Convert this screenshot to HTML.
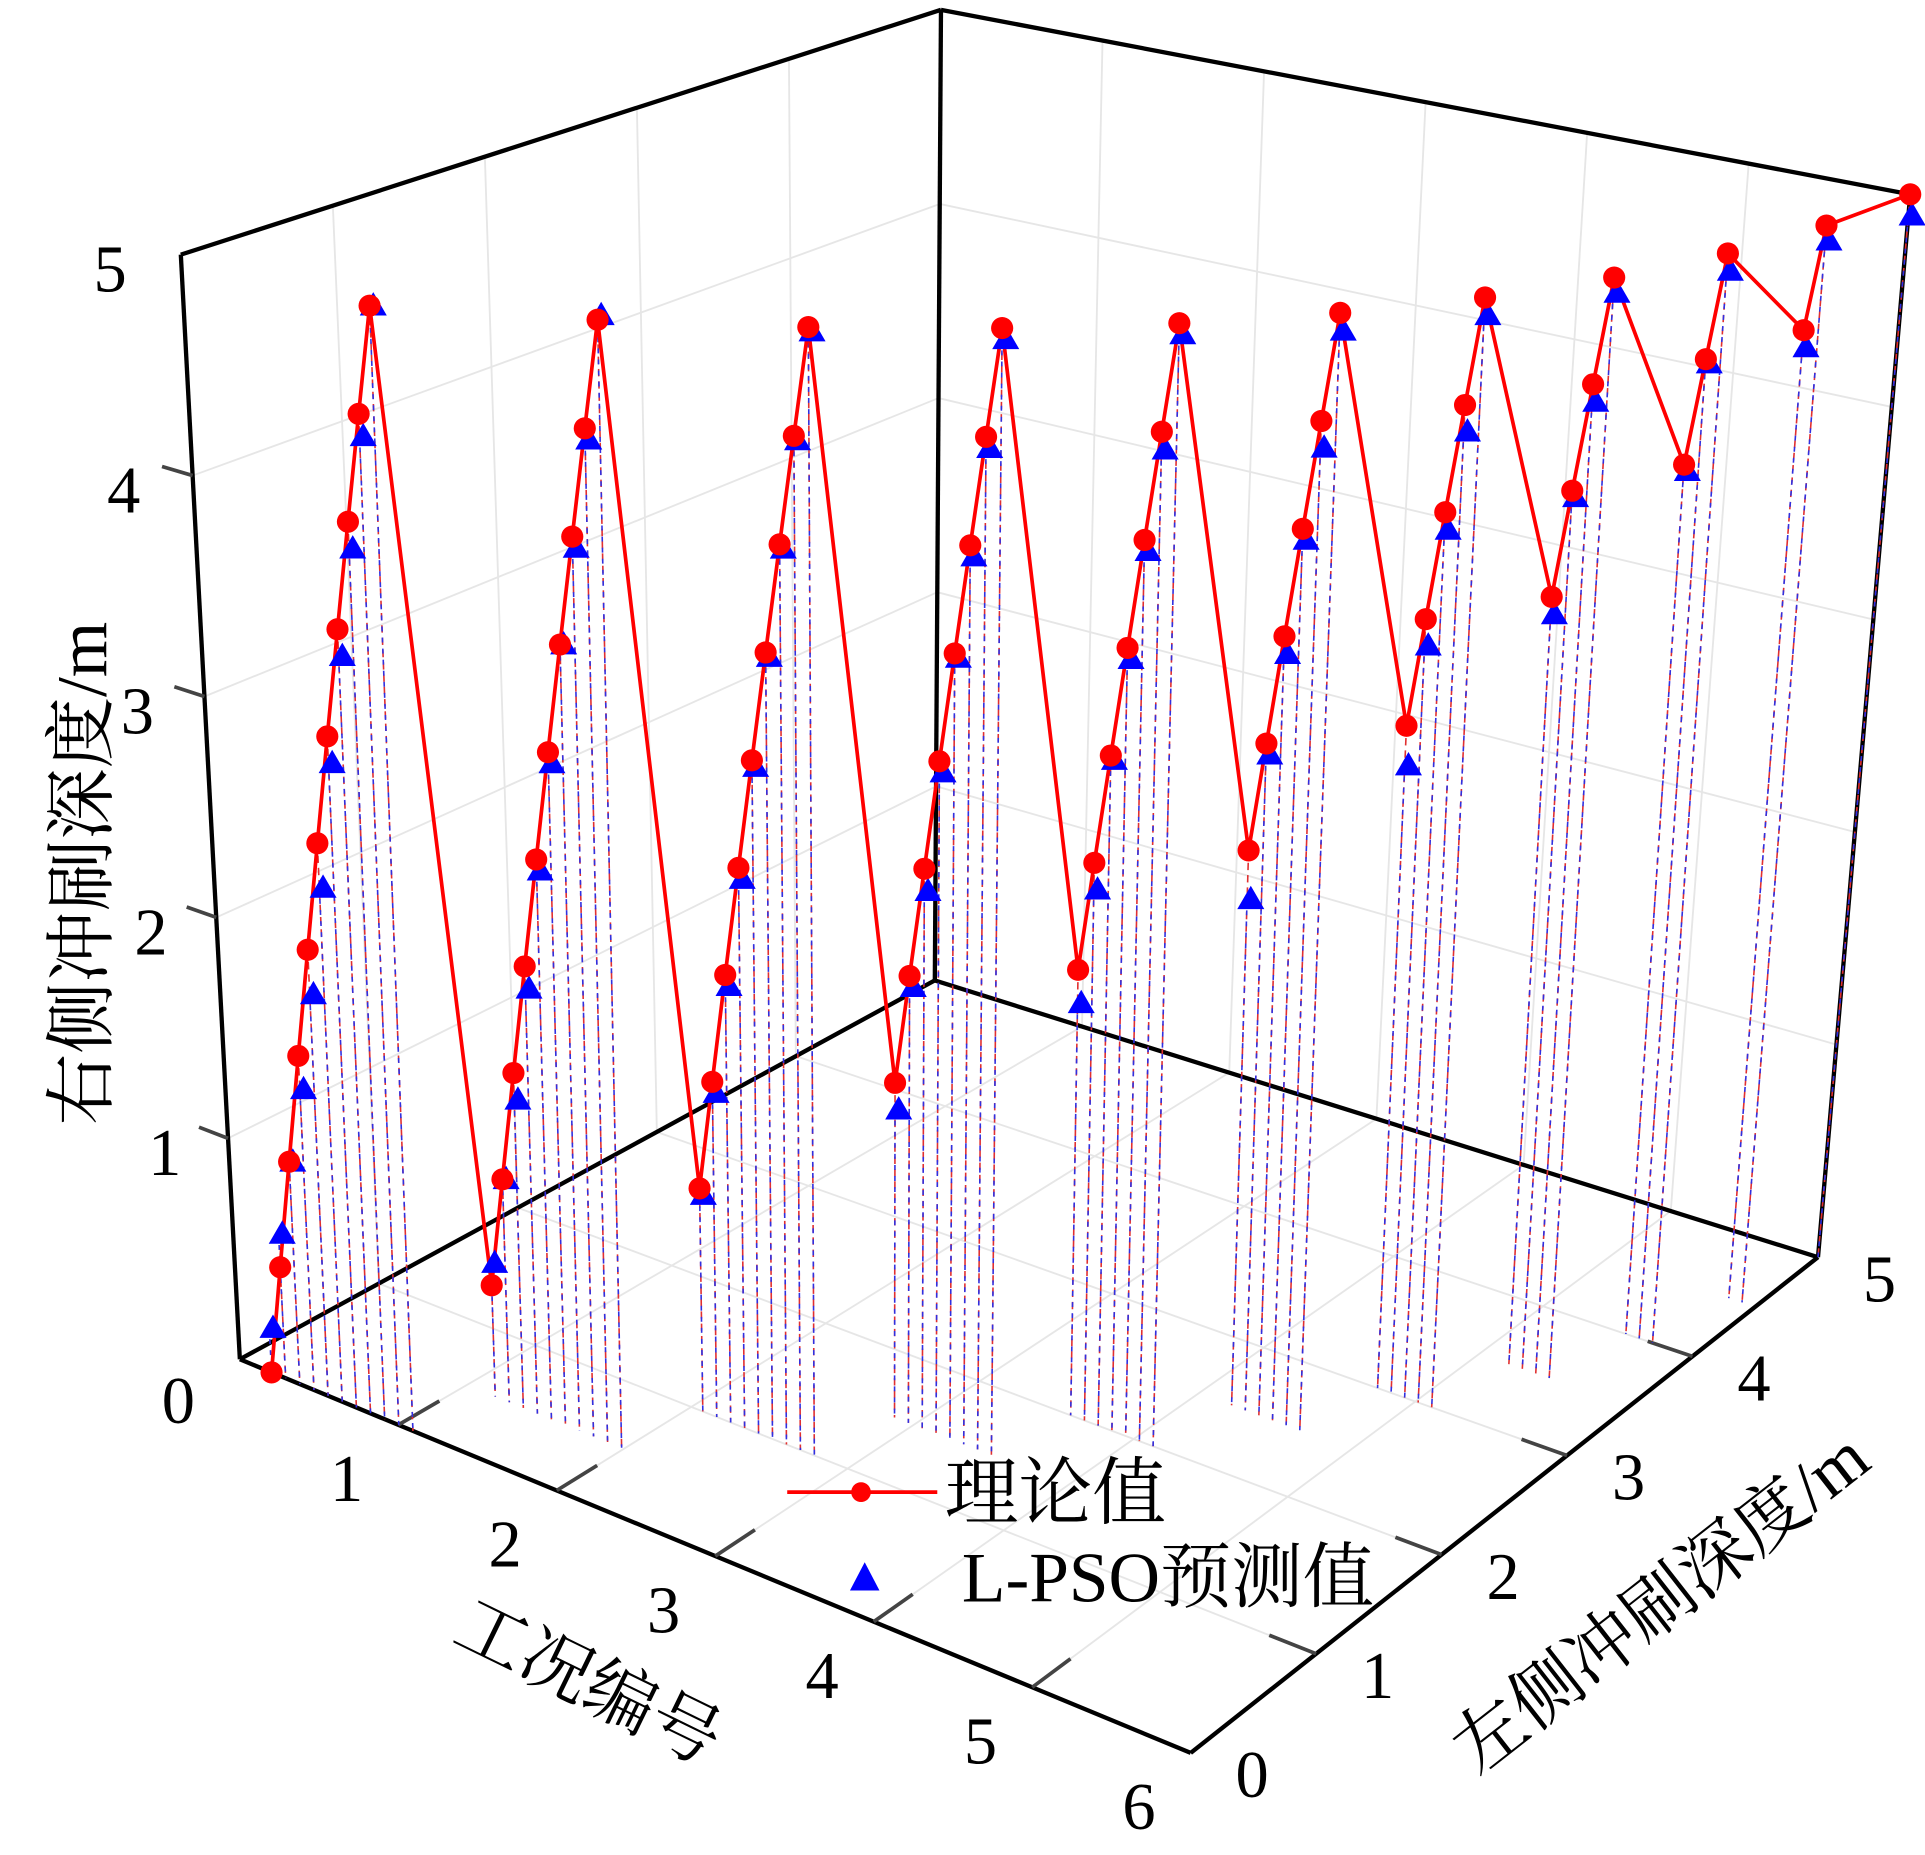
<!DOCTYPE html>
<html><head><meta charset="utf-8"><style>
html,body{margin:0;padding:0;background:#fff;}
svg{display:block;}
text{font-family:"Liberation Serif","Noto Serif CJK SC","Noto Sans CJK SC",serif;fill:#000;}
</style></head><body>
<svg id="chart" width="1925" height="1855" viewBox="0 0 1565 1508" preserveAspectRatio="none" xmlns="http://www.w3.org/2000/svg">
<g id="grid"></g>
<g id="axes"></g>
<g id="drops"></g>
<g id="series"></g>
<g id="labels"></g>
<text transform="translate(86,710) rotate(-90)" text-anchor="middle" font-size="58">右侧冲刷深度/m</text>
<text transform="translate(470,1385) rotate(26)" text-anchor="middle" font-size="58">工况编号</text>
<text transform="translate(1362,1318) rotate(-38)" text-anchor="middle" font-size="58">左侧冲刷深度/m</text>
<g>
<g>
<line x1="640" y1="1213" x2="762" y2="1213" stroke="#f00" stroke-width="3"/>
<circle cx="700" cy="1213" r="8" fill="#f00"/>
<text x="768" y="1234" font-size="60">理论值</text></g>
<g>
<polygon points="703,1270 691,1293 715,1293" fill="#00f"/>
<text x="782" y="1302" font-size="58">L-PSO预测值</text></g>
</g>
</svg>
<script>
const caseIndex = [1,2,3,4,5,6,7,8,9,10,11,12,13,14,15,16,17,18,19,20,21,22,23,24,25,26,27,28,29,30,31,32,33,34,35,36,37,38,39,40,41,42,43,44,45,46,47,48,49,50,51,52,53,54,55,56,57,58,59,60,61,62,63,64,65,66];
const leftDepth = [0,0,0,0,0,0,0,0,0,0,0, 0.5,0.5,0.5,0.5,0.5,0.5,0.5,0.5,0.5,0.5, 1,1,1,1,1,1,1,1,1, 1.5,1.5,1.5,1.5,1.5,1.5,1.5,1.5, 2,2,2,2,2,2,2, 2.5,2.5,2.5,2.5,2.5,2.5, 3,3,3,3,3, 3.5,3.5,3.5,3.5, 4,4,4, 4.5,4.5, 5];
const theory = [0,0.5,1,1.5,2,2.5,3,3.5,4,4.5,5, 0.5,1,1.5,2,2.5,3,3.5,4,4.5,5, 1,1.5,2,2.5,3,3.5,4,4.5,5, 1.5,2,2.5,3,3.5,4,4.5,5, 2,2.5,3,3.5,4,4.5,5, 2.5,3,3.5,4,4.5,5, 3,3.5,4,4.5,5, 3.5,4,4.5,5, 4,4.5,5, 4.5,5, 5];
const predicted = [0.2,0.65,1.0,1.35,1.8,2.3,2.88,3.38,3.88,4.4,5.0, 0.6,1.0,1.38,1.9,2.45,2.95,3.5,3.95,4.45,5.02, 0.97,1.45,1.95,2.45,2.97,3.48,3.98,4.48,4.98, 1.38,1.95,2.4,2.95,3.48,3.95,4.45,4.95, 1.85,2.38,2.98,3.45,3.95,4.42,4.95, 2.28,2.95,3.42,3.95,4.38,4.92, 2.82,3.38,3.92,4.38,4.92, 3.42,3.97,4.42,4.93, 3.97,4.48,4.92, 4.42,4.93, 4.9];
const xTicks = ["1","2","3","4","5","6"];
const yTicks = ["0","1","2","3","4","5"];
const zTicks = ["0","1","2","3","4","5"];

const NS="http://www.w3.org/2000/svg";
const A=[195,1105],B=[968,1425],C=[1478,1022],D=[760,797];
const At=[147,207],Bt=[990,435],Ct=[1553,158],Dt=[765,8];
function bil(P,Q,R,S,u,v){
  return [P[0]*(1-u)*(1-v)+Q[0]*u*(1-v)+R[0]*u*v+S[0]*(1-u)*v,
          P[1]*(1-u)*(1-v)+Q[1]*u*(1-v)+R[1]*u*v+S[1]*(1-u)*v];}
function proj(x,y,z){const u=x/6,v=y/5,w=z/5;
  const f=bil(A,B,C,D,u,v),t=bil(At,Bt,Ct,Dt,u,v);
  return [f[0]+(t[0]-f[0])*w,f[1]+(t[1]-f[1])*w];}
function caseX(c){return 0.2+(c-1)*5.8/65;}
function mk(tag,attrs,parent){const e=document.createElementNS(NS,tag);for(const k in attrs)e.setAttribute(k,attrs[k]);parent.appendChild(e);return e;}
function seg(g,p,q,st,sw,da,name){const l=mk('line',{x1:p[0],y1:p[1],x2:q[0],y2:q[1],stroke:st,'stroke-width':sw},g);if(da)l.setAttribute('stroke-dasharray',da);
  
  return l;}
const grid=document.getElementById('grid'),axes=document.getElementById('axes'),drops=document.getElementById('drops'),series=document.getElementById('series'),labels=document.getElementById('labels');
const gc="#e6e6e6";
for(let z=1;z<5;z++){seg(grid,proj(0,0,z),proj(0,5,z),gc,1.5,null,'grid-line');seg(grid,proj(0,5,z),proj(6,5,z),gc,1.5,null,'grid-line');}
for(let y=1;y<5;y++){seg(grid,proj(0,y,0),proj(0,y,5),gc,1.5,null,'grid-line');seg(grid,proj(0,y,0),proj(6,y,0),gc,1.5,null,'grid-line');}
for(let x=1;x<6;x++){seg(grid,proj(x,5,0),proj(x,5,5),gc,1.5,null,'grid-line');seg(grid,proj(x,0,0),proj(x,5,0),gc,1.5,null,'grid-line');}
[[[0,0,0],[6,0,0]],[[6,0,0],[6,5,0]],[[0,0,0],[0,5,0]],[[0,5,0],[6,5,0]],[[0,0,0],[0,0,5]],[[0,5,0],[0,5,5]],[[6,5,0],[6,5,5]],[[0,0,5],[0,5,5]],[[0,5,5],[6,5,5]]].forEach(e=>{
  seg(axes,proj(...e[0]),proj(...e[1]),"#000",3.5,null,'axis-edge');});
xTicks.forEach((t,i)=>{const x=i+1;if(x<6)seg(axes,proj(x,0,0),proj(x,0.3,0),"#444",3,null,'x-tick');
  const p=proj(x,0,0);const tx=mk('text',{x:p[0]-42,y:p[1]+62,'font-size':54,'text-anchor':'middle'},labels);tx.textContent=t;
  
  });
yTicks.forEach((t,i)=>{const y=i;if(y>0&&y<5)seg(axes,proj(6,y,0),proj(5.7,y,0),"#444",3,null,'y-tick');
  const p=proj(6,y,0);const tx=mk('text',{x:p[0]+50,y:p[1]+36,'font-size':54,'text-anchor':'middle'},labels);tx.textContent=t;
  
  });
zTicks.forEach((t,i)=>{const z=i;if(z>0&&z<5)seg(axes,proj(0,0,z),proj(-0.18,0,z),"#444",3,null,'z-tick');
  const p=proj(0,0,z);const tx=mk('text',{x:p[0]-50-z*1.5,y:p[1]+(z==0?52:30),'font-size':54,'text-anchor':'middle'},labels);tx.textContent=t;
  
  });
caseIndex.forEach((c,i)=>{const x=caseX(c),y=leftDepth[i];
  seg(drops,proj(x,y,theory[i]),proj(x,y,0),"#e03030",1.3,"6 4",'drop-line-theory');
  seg(drops,proj(x,y,predicted[i]),proj(x,y,0),"#3030e0",1.3,"4 5",'drop-line-prediction');});
const pts=caseIndex.map((c,i)=>proj(caseX(c),leftDepth[i],theory[i]));
const pl=mk('polyline',{points:pts.map(p=>p.join(',')).join(' '),fill:'none',stroke:'#f00','stroke-width':3},series);


caseIndex.forEach((c,i)=>{const p=proj(caseX(c),leftDepth[i],predicted[i]);
  const t=mk('polygon',{points:`${p[0]+3},${p[1]-11} ${p[0]-8},${p[1]+8} ${p[0]+14},${p[1]+8}`,fill:'#00f'},series);
  
  });
pts.forEach(p=>{const ci=mk('circle',{cx:p[0],cy:p[1],r:9,fill:'#f00'},series);
  
  });
</script>
</body></html>
